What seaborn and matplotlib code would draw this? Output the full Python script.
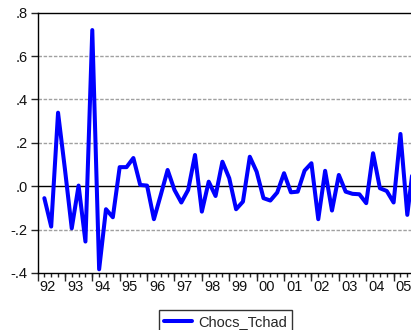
import numpy as np
import pandas as pd
import matplotlib
matplotlib.use("Agg")
import matplotlib.pyplot as plt
import seaborn as sns

# Quarterly series, 1992Q1 .. 2005Q3
years = list(range(1992, 2006))
chocs_tchad = [
    -0.055, -0.186, 0.339, 0.080,   # 92
    -0.194, 0.003, -0.255, 0.720,   # 93
    -0.383, -0.106, -0.143, 0.088,  # 94
    0.088, 0.130, 0.006, 0.003,     # 95
    -0.152, -0.040, 0.075, -0.017,  # 96
    -0.075, -0.017, 0.144, -0.117,  # 97
    0.021, -0.045, 0.113, 0.037,    # 98
    -0.106, -0.071, 0.136, 0.067,   # 99
    -0.055, -0.066, -0.029, 0.060,  # 00
    -0.028, -0.025, 0.072, 0.106,   # 01
    -0.152, 0.071, -0.112, 0.052,   # 02
    -0.025, -0.035, -0.037, -0.078, # 03
    0.152, -0.009, -0.022, -0.075,  # 04
    0.241, -0.132, 0.130,           # 05
]
year_labels = ['92', '93', '94', '95', '96', '97', '98', '99',
               '00', '01', '02', '03', '04', '05']
y_ticks = [-0.4, -0.2, 0.0, 0.2, 0.4, 0.6, 0.8]
y_labels = ['-.4', '-.2', '.0', '.2', '.4', '.6', '.8']

t = [years[0] + i / 4 for i in range(len(chocs_tchad))]
df = pd.DataFrame({'t': t, 'Chocs_Tchad': chocs_tchad})

sns.set_style("white")
plt.rcParams['font.family'] = ['Liberation Sans', 'DejaVu Sans']

fig = plt.figure(figsize=(4.11, 3.30), dpi=100)
ax = fig.add_axes([37.5 / 411, 57 / 330, (421 - 37.5) / 411, (273 - 12.7) / 330])

# gridlines
for v in [-0.2, 0.2, 0.4, 0.6]:
    ax.axhline(v, color='#a0a0a0', lw=1.0, ls=(0, (2.5, 1.2)), zorder=0)
ax.axhline(0, color='black', lw=1.0, zorder=1)

sns.lineplot(data=df, x='t', y='Chocs_Tchad', color='#0000ff', lw=2.9,
             ax=ax, label='Chocs_Tchad', zorder=3)

ax.set_xlim(1991.75, 2005.75)
ax.set_ylim(-0.4, 0.8)
ax.set_xlabel('')
ax.set_ylabel('')

ax.set_yticks(y_ticks)
ax.set_yticklabels(y_labels, fontsize=10.5, color='#111111')
ax.tick_params(axis='y', direction='out', length=5, width=1, pad=2, left=True)

# year labels centred between Q1 and Q2, quarter ticks as minor
ax.set_xticks([y + 0.125 for y in years])
ax.set_xticklabels(year_labels, fontsize=10.5, color='#111111')
ax.set_xticks(t + [2005.75], minor=True)
ax.tick_params(axis='x', which='major', length=0, pad=5)
ax.tick_params(axis='x', which='minor', direction='out', length=3, width=1, bottom=True)
sec = ax.secondary_xaxis('bottom')
sec.set_xticks([y - 0.25 for y in years])
sec.set_xticklabels([])
sec.tick_params(axis='x', direction='out', length=5.5, width=1)
sec.spines['bottom'].set_visible(False)

for s in ax.spines.values():
    s.set_color('black')
    s.set_linewidth(1.0)

leg = ax.legend(loc='upper center', bbox_to_anchor=(225.5 / 411, 20 / 330),
                bbox_transform=fig.transFigure, frameon=True, fancybox=False,
                edgecolor='black', fontsize=10.5, handlelength=1.9,
                borderpad=0.35, handletextpad=0.4, borderaxespad=0)
leg.get_frame().set_linewidth(1.0)

fig.savefig('out.png', dpi=100)
